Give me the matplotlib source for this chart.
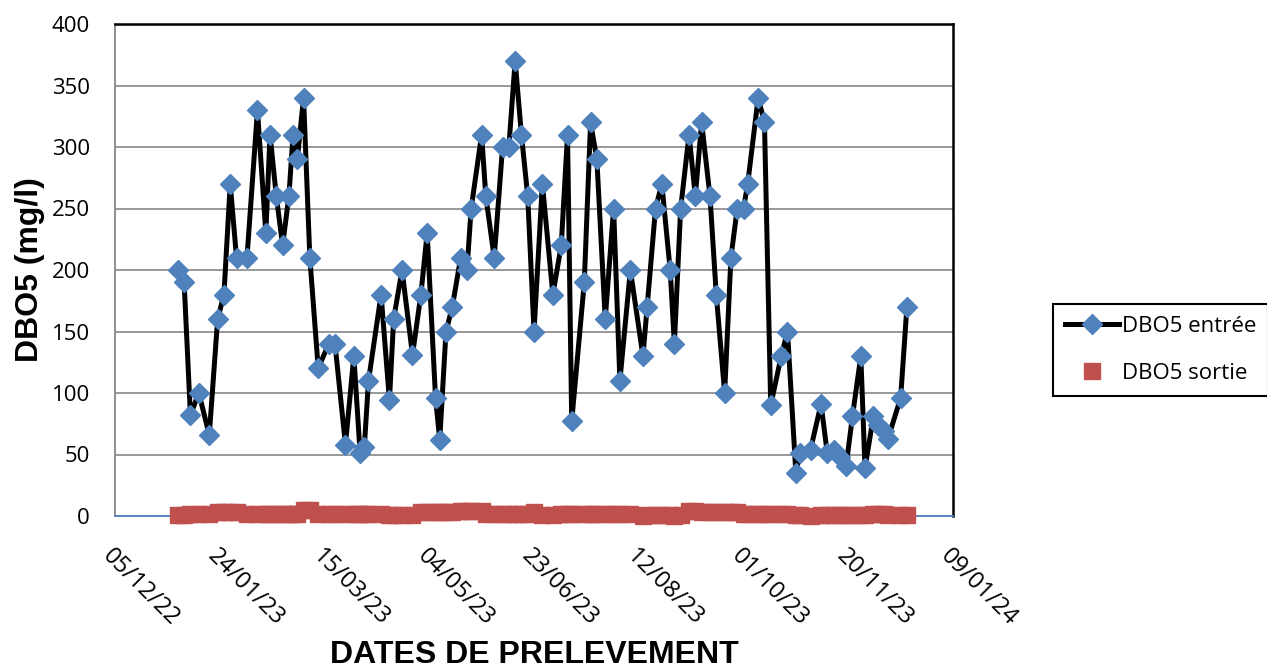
import pandas as pd
import matplotlib
matplotlib.use("Agg")
import matplotlib.pyplot as plt
import matplotlib.dates as mdates

# dates de prelevement
dates = [
    "2023-01-04", "2023-01-07", "2023-01-10", "2023-01-14", "2023-01-19",
    "2023-01-23", "2023-01-26", "2023-01-29", "2023-02-01", "2023-02-06",
    "2023-02-11", "2023-02-15", "2023-02-17", "2023-02-20", "2023-02-23",
    "2023-02-26", "2023-02-28", "2023-03-02", "2023-03-05", "2023-03-08",
    "2023-03-12", "2023-03-17", "2023-03-20", "2023-03-25", "2023-03-29",
    "2023-04-01", "2023-04-03", "2023-04-05", "2023-04-11", "2023-04-15",
    "2023-04-17", "2023-04-21", "2023-04-26", "2023-04-30", "2023-05-03",
    "2023-05-07", "2023-05-09", "2023-05-12", "2023-05-15", "2023-05-19",
    "2023-05-22", "2023-05-24", "2023-05-29", "2023-05-31", "2023-06-04",
    "2023-06-08", "2023-06-11", "2023-06-14", "2023-06-17", "2023-06-20",
    "2023-06-23", "2023-06-27", "2023-07-02", "2023-07-06", "2023-07-09",
    "2023-07-11", "2023-07-17", "2023-07-20", "2023-07-23", "2023-07-27",
    "2023-07-31", "2023-08-03", "2023-08-08", "2023-08-14", "2023-08-16",
    "2023-08-20", "2023-08-23", "2023-08-27", "2023-08-29", "2023-09-01",
    "2023-09-05", "2023-09-08", "2023-09-11", "2023-09-15", "2023-09-18",
    "2023-09-22", "2023-09-25", "2023-09-28", "2023-10-01", "2023-10-03",
    "2023-10-08", "2023-10-11", "2023-10-14", "2023-10-19", "2023-10-22",
    "2023-10-26", "2023-10-28", "2023-11-02", "2023-11-07", "2023-11-10",
    "2023-11-13", "2023-11-16", "2023-11-19", "2023-11-22", "2023-11-26",
    "2023-11-28", "2023-12-02", "2023-12-04", "2023-12-07", "2023-12-09",
    "2023-12-15", "2023-12-18",
]

dbo5_entree = [
    200, 190, 82, 100, 66, 160, 180, 270, 210, 210,
    330, 230, 310, 260, 220, 260, 310, 290, 340, 210,
    120, 140, 140, 58, 130, 51, 56, 110, 180, 94,
    160, 200, 131, 180, 230, 96, 62, 150, 170, 210,
    200, 250, 310, 260, 210, 300, 300, 370, 310, 260,
    150, 270, 180, 220, 310, 77, 190, 320, 290, 160,
    250, 110, 200, 130, 170, 250, 270, 200, 140, 250,
    310, 260, 320, 260, 180, 100, 210, 250, 250, 270,
    340, 320, 90, 130, 150, 35, 51, 54, 91, 51,
    54, 48, 41, 81, 130, 39, 81, 74, 69, 63,
    96, 170,
]

dbo5_sortie = [
    1, 1, 2, 2, 2, 3, 3, 3, 3, 2,
    2, 2, 2, 2, 2, 2, 2, 2, 5, 5,
    2, 2, 2, 2, 2, 2, 2, 2, 2, 1,
    1, 1, 1, 3, 3, 3, 3, 3, 3, 4,
    4, 4, 4, 2, 2, 2, 2, 2, 2, 2,
    3, 1, 1, 2, 2, 2, 2, 2, 2, 2,
    2, 2, 2, 0, 1, 1, 1, 1, 0, 1,
    4, 4, 3, 3, 3, 3, 3, 3, 2, 2,
    2, 2, 2, 2, 2, 1, 1, 0, 1, 1,
    1, 1, 1, 1, 1, 1, 2, 2, 2, 1,
    1, 1,
]

x_ticks = ["2022-12-05", "2023-01-24", "2023-03-15", "2023-05-04", "2023-06-23",
           "2023-08-12", "2023-10-01", "2023-11-20", "2024-01-09"]
y_ticks = [0, 50, 100, 150, 200, 250, 300, 350, 400]

d = pd.to_datetime(dates)
xt = pd.to_datetime(x_ticks)

fig = plt.figure(figsize=(12.67, 6.69), dpi=100)
ax = fig.add_axes([115 / 1267, 1 - 516 / 669, (953 - 115) / 1267, (516 - 24) / 669])

ax.plot(d, dbo5_entree, color="black", lw=3.6, marker="D", ms=10,
        mfc="#4F81BD", mec="#4F81BD", label="DBO5 entrée", zorder=4)
ax.plot(d, dbo5_sortie, ls="none", marker="s", ms=12,
        mfc="#C0504D", mec="#C0504D", label="DBO5 sortie", zorder=5, clip_on=False)

ax.set_xlim(xt[0], xt[-1])
ax.set_ylim(0, 400)
ax.set_xticks(xt)
ax.xaxis.set_major_formatter(mdates.DateFormatter("%d/%m/%y"))
ax.set_yticks(y_ticks)
ax.grid(axis="y", color="#868686", lw=1.2)
ax.set_axisbelow(True)
ax.tick_params(axis="y", length=0, labelsize=16, pad=18)
ax.tick_params(axis="x", length=0, labelsize=17, pad=20)
for lab in ax.get_xticklabels() + ax.get_yticklabels():
    lab.set_family("Open Sans")
for lab in ax.get_xticklabels():
    lab.set_rotation(-45)
    lab.set_ha("left")
    lab.set_va("top")
    lab.set_rotation_mode("anchor")

ax.spines["left"].set_color("#868686")
ax.spines["left"].set_linewidth(1.3)
ax.spines["top"].set_color("black")
ax.spines["top"].set_linewidth(1.8)
ax.spines["right"].set_color("black")
ax.spines["right"].set_linewidth(1.8)
ax.spines["bottom"].set_color("#4F81BD")
ax.spines["bottom"].set_linewidth(1.3)

ax.set_ylabel("DBO5 (mg/l)", fontsize=23, fontweight="bold", family="Liberation Sans", labelpad=5)
fig.text(534 / 1267, 1 - 655 / 669, "DATES DE PRELEVEMENT", fontsize=23, fontweight="bold",
         family="Liberation Sans", ha="center", va="center")

leg = fig.legend(loc="center left", bbox_to_anchor=(1053 / 1267, 1 - 350 / 669),
                 borderaxespad=0, frameon=True, fancybox=False, edgecolor="black",
                 framealpha=1, prop={"family": "Open Sans", "size": 16}, handlelength=2.4,
                 labelspacing=1.15, borderpad=0.55, handletextpad=0.15)
leg.get_frame().set_linewidth(1.5)

fig.savefig("out.png", dpi=100)
